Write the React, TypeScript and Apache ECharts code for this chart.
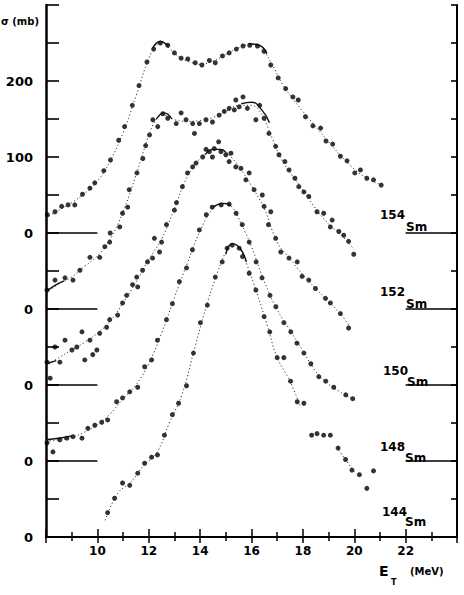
import React, { useEffect, useRef } from "react";
import * as echarts from "echarts";

// Energies in MeV, cross sections in mb (each isotope shifted by its display offset)
const isotopes = ["154", "152", "150", "148", "144"];
const offsets = [400, 300, 200, 100, 0];
const yTickLabels: Record<number, string> = { 0: "0", 100: "0", 200: "0", 300: "0", 400: "0", 500: "100", 600: "200" };
const xTickLabels = [10, 12, 14, 16, 18, 20, 22];

const sm154 = [[8.05,24],[8.35,28],[8.61,35],[8.86,37],[9.12,37],[9.42,51],[9.71,59],[9.9,66],[10.25,82],[10.51,96],[10.83,122],[11.06,140],[11.36,168],[11.62,194],[11.93,225],[12.19,242],[12.45,250],[12.74,247],[13.0,237],[13.26,230],[13.52,229],[13.81,224],[14.07,221],[14.36,227],[14.59,224],[14.87,233],[15.13,237],[15.41,242],[15.67,246],[15.93,247],[16.23,246],[16.49,239],[16.75,221],[17.04,204],[17.33,190],[17.61,179],[17.82,175],[18.1,153],[18.39,141],[18.69,138],[18.9,121],[19.16,117],[19.46,101],[19.72,95],[20.02,79],[20.24,83],[20.49,72],[20.75,70],[21.05,63]];
const sm152 = [[8.04,25],[8.35,38],[8.74,41],[9.05,38],[9.32,51],[9.71,68],[10.09,68],[10.29,82],[10.48,88],[10.5,100],[10.87,108],[10.98,126],[11.18,134],[11.24,157],[11.54,179],[11.77,198],[11.88,215],[12.03,229],[12.16,249],[12.35,240],[12.55,257],[12.74,251],[13.07,244],[13.26,258],[13.45,249],[13.71,244],[13.78,231],[13.97,244],[14.23,249],[14.48,246],[14.74,255],[14.94,260],[15.13,264],[15.33,262],[15.39,275],[15.52,266],[15.67,279],[15.84,264],[16.17,249],[16.32,268],[16.49,251],[16.68,231],[16.94,214],[17.07,203],[17.3,194],[17.46,183],[17.69,172],[17.84,161],[18.04,154],[18.23,148],[18.55,128],[18.81,126],[19.07,108],[19.14,117],[19.4,102],[19.59,97],[19.78,89],[19.98,72]];
const sm150 = [[8.04,30],[8.16,9],[8.35,50],[8.54,30],[8.74,59],[9.01,46],[9.2,50],[9.4,70],[9.51,33],[9.71,59],[9.82,40],[9.98,46],[10.09,68],[10.36,76],[10.48,86],[10.79,92],[10.98,108],[11.14,118],[11.37,132],[11.53,142],[11.57,129],[11.76,151],[11.95,162],[12.15,167],[12.22,193],[12.42,175],[12.5,188],[12.69,211],[13.0,230],[13.08,240],[13.31,261],[13.51,279],[13.71,287],[13.84,292],[14.1,300],[14.23,310],[14.36,307],[14.48,300],[14.55,311],[14.72,320],[14.81,307],[15.0,303],[15.13,294],[15.2,305],[15.39,287],[15.59,285],[15.78,270],[15.91,279],[16.1,257],[16.42,250],[16.49,235],[16.66,211],[16.75,228],[16.94,193],[17.14,175],[17.46,167],[17.78,162],[17.97,143],[18.23,138],[18.49,127],[18.88,114],[19.07,108],[19.46,94],[19.78,75]];
const sm148 = [[8.04,24],[8.27,12],[8.54,28],[8.81,30],[9.05,32],[9.4,30],[9.63,43],[9.9,47],[10.17,51],[10.4,54],[10.75,78],[10.98,83],[11.26,91],[11.57,97],[11.84,124],[12.11,133],[12.34,159],[12.69,186],[12.92,207],[13.19,236],[13.47,254],[13.7,278],[13.97,304],[14.24,324],[14.47,334],[14.82,337],[15.13,338],[15.4,326],[15.64,311],[15.91,288],[16.18,262],[16.41,241],[16.72,218],[16.95,203],[17.26,182],[17.53,170],[17.77,155],[18.04,142],[18.31,128],[18.62,111],[18.89,105],[19.2,97],[19.67,87],[19.94,82]];
const sm144 = [[10.4,32],[10.67,51],[10.98,71],[11.26,68],[11.57,84],[11.84,97],[12.11,105],[12.34,108],[12.61,134],[12.92,161],[13.16,176],[13.47,199],[13.74,242],[14.01,282],[14.28,305],[14.59,342],[14.86,362],[15.05,380],[15.25,384],[15.52,380],[15.65,369],[15.91,347],[16.17,325],[16.49,290],[16.71,270],[17.0,236],[17.26,236],[17.52,205],[17.78,178],[18.04,176],[18.34,134],[18.55,136],[18.81,134],[19.07,134],[19.37,117],[19.66,102],[19.91,88],[20.2,82],[20.49,64],[20.75,87]];

// dotted fitted curves
const fit154 = [[8.0,20],[8.5,30],[9,40],[9.5,52],[10,68],[10.5,95],[11,132],[11.5,180],[12,230],[12.3,247],[12.5,251],[12.8,243],[13.2,231],[13.6,225],[14,222],[14.5,226],[15,235],[15.5,244],[16,248],[16.4,242],[16.8,222],[17.2,196],[17.6,177],[18,160],[18.5,140],[19,120],[19.5,101],[20,84],[20.5,72],[21,64]];
const fit152 = [[8.0,22],[8.5,33],[9,42],[9.5,56],[10,70],[10.5,92],[11,128],[11.5,176],[12,228],[12.3,250],[12.6,255],[13,249],[13.5,247],[14,248],[14.5,252],[15,260],[15.5,268],[16,268],[16.4,256],[16.8,225],[17.2,195],[17.6,175],[18,157],[18.5,132],[19,112],[19.5,97],[20,78]];
const fit150 = [[8.0,25],[8.5,36],[9,46],[9.5,56],[10,68],[10.5,84],[11,108],[11.5,135],[12,165],[12.5,192],[13,232],[13.5,274],[14,298],[14.4,308],[14.8,310],[15.2,300],[15.6,283],[16,262],[16.5,232],[17,188],[17.5,166],[18,145],[18.5,127],[19,110],[19.5,92],[19.8,78]];
const fit148 = [[8.0,26],[8.5,28],[9,31],[9.5,38],[10,48],[10.5,62],[11,82],[11.5,100],[12,128],[12.5,168],[13,215],[13.5,260],[14,303],[14.5,332],[14.9,339],[15.2,336],[15.6,312],[16,282],[16.5,236],[17,199],[17.5,172],[18,145],[18.5,118],[19,101],[19.5,90],[20,80]];
const fit144a = [[10.3,22],[10.8,58],[11.3,72],[11.8,94],[12.3,110],[12.8,150],[13.3,188],[13.8,250],[14.3,310],[14.7,350],[15.0,375],[15.25,385],[15.5,381],[15.8,360],[16.2,322],[16.6,280],[17.0,236],[17.5,205],[17.9,172]];
const fit144b = [[19.4,114],[19.7,100],[20.0,86]];

// solid segments of the fits
const solid154 = [[[12.15,243],[12.45,252],[12.75,246]], [[15.9,249],[16.3,247],[16.6,236]]];
const solid152 = [[[8.0,22],[8.3,30],[8.7,37]], [[12.3,250],[12.6,258],[12.9,250]], [[15.6,270],[16.0,272],[16.4,262],[16.7,245]]];
const solid150 = [[[8.0,28],[8.4,32]], [[14.2,303],[14.5,310],[14.8,310],[15.0,306]]];
const solid148 = [[[8.0,28],[8.5,30],[9.0,33]], [[14.5,334],[14.9,339],[15.2,336]]];
const solid144 = [[[15.0,372],[15.25,386],[15.55,380],[15.8,362]]];

const pointSets = [sm154, sm152, sm150, sm148, sm144];
const fitSets = [[fit154], [fit152], [fit150], [fit148], [fit144a, fit144b]];
const solidSets = [solid154, solid152, solid150, solid148, solid144];

const FONT = "DejaVu Sans";

export default function App() {
  const ref = useRef<HTMLDivElement>(null);
  useEffect(() => {
    const chart = echarts.init(ref.current!, null, { renderer: "svg" });
    const shift = (arr: number[][], off: number) => arr.map(([e, s]) => [e, s + off]);
    const series: any[] = [];
    pointSets.forEach((pts, i) => {
      const off = offsets[i];
      fitSets[i].forEach((f) => {
        series.push({
          type: "line", data: shift(f, off), smooth: 0.4, showSymbol: false, silent: true,
          lineStyle: { color: "#333", width: 1, type: [1.2, 2.4] },
        });
      });
      solidSets[i].forEach((f) => {
        series.push({
          type: "line", data: shift(f, off), smooth: 0.5, showSymbol: false, silent: true,
          lineStyle: { color: "#111", width: 1.4 },
        });
      });
      series.push({
        type: "scatter", data: shift(pts, off), symbol: "circle", symbolSize: 5,
        itemStyle: { color: "#000" },
      });
    });
    offsets.filter((o) => o > 0).forEach((o) => {
      series.push({ type: "line", data: [[8, o], [10, o]], showSymbol: false, lineStyle: { color: "#000", width: 1.6 } });
      series.push({ type: "line", data: [[22, o], [24, o]], showSymbol: false, lineStyle: { color: "#000", width: 1.6 } });
    });

    const labelPos = [
      [380, 209, 406, 221],
      [380, 286, 406, 298],
      [383, 365, 407, 376],
      [380, 441, 405, 452],
      [382, 506, 405, 516],
    ];
    const graphics: any[] = [];
    isotopes.forEach((iso, i) => {
      const p = labelPos[i];
      graphics.push({ type: "text", left: p[0], top: p[1], style: { text: iso, font: `bold 12px "${FONT}"`, fill: "#000" } });
      graphics.push({ type: "text", left: p[2], top: p[3], style: { text: "Sm", font: `bold 12px "${FONT}"`, fill: "#000" } });
    });
    graphics.push({ type: "text", left: 1, top: 16, style: { text: "σ (mb)", font: `bold 10px "${FONT}"`, fill: "#000" } });
    graphics.push({ type: "text", left: 379, top: 564, style: { text: "E", font: `bold 14px "${FONT}"`, fill: "#000" } });
    graphics.push({ type: "text", left: 391, top: 578, style: { text: "T", font: `bold 8px "${FONT}"`, fill: "#000" } });
    graphics.push({ type: "text", left: 410, top: 566, style: { text: "(MeV)", font: `bold 10px "${FONT}"`, fill: "#000" } });

    const xCommon = {
      type: "value", min: 8, max: 24, interval: 2,
      splitLine: { show: false },
      axisLine: { show: true, lineStyle: { color: "#000", width: 2 } },
      minorTick: { show: true, splitNumber: 2, length: 5, lineStyle: { color: "#000", width: 1.5 } },
      axisTick: { show: true, inside: true, length: 8, lineStyle: { color: "#000", width: 1.5 } },
    };
    const yCommon = {
      type: "value", min: 0, max: 700, interval: 50,
      splitLine: { show: false },
      axisLine: { show: true, lineStyle: { color: "#000", width: 2.5 } },
    };
    const option: any = {
      animation: false,
      backgroundColor: "#fff",
      grid: { left: 46, right: 7, top: 5, bottom: 58, containLabel: false },
      xAxis: [
        {
          ...xCommon, position: "bottom",
          axisLabel: {
            margin: 8, color: "#000", fontFamily: FONT, fontWeight: "bold", fontSize: 12,
            formatter: (v: number) => (xTickLabels.includes(v) ? String(v) : ""),
          },
        },
        { ...xCommon, position: "top", axisLabel: { show: false }, axisTick: { ...xCommon.axisTick, length: 6 }, minorTick: { ...xCommon.minorTick, length: 4 } },
      ],
      yAxis: [
        {
          ...yCommon, position: "left",
          axisTick: { show: true, inside: true, length: 13, lineStyle: { color: "#000", width: 1.6 } },
          axisLabel: {
            margin: 13, color: "#000", fontFamily: FONT, fontWeight: "bold", fontSize: 13,
            formatter: (v: number) => yTickLabels[v] ?? "",
          },
        },
        {
          ...yCommon, position: "right",
          axisLine: { show: true, lineStyle: { color: "#000", width: 2 } },
          axisTick: { show: true, inside: true, length: 6, lineStyle: { color: "#000", width: 1.6 } },
          axisLabel: { show: false },
        },
      ],
      series,
      graphic: graphics,
    };
    chart.setOption(option);
    return () => chart.dispose();
  }, []);
  return <div ref={ref} style={{ position: "fixed", left: 0, top: 0, width: 464, height: 595 }} />;
}
